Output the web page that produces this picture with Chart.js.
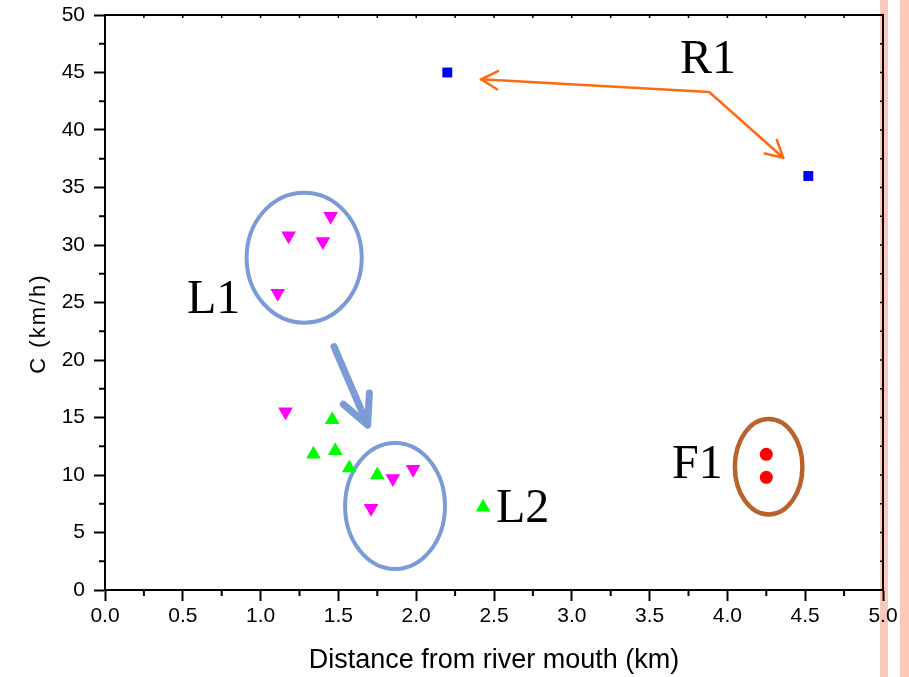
<!DOCTYPE html>
<html><head><meta charset="utf-8">
<script src="https://cdn.jsdelivr.net/npm/chart.js@4.4.1/dist/chart.umd.min.js"></script>
<style>
html,body{margin:0;padding:0;background:#fff;overflow:hidden;}
#wrap{position:relative;width:909px;height:677px;}
.stripe{position:absolute;top:0;height:677px;background:#f9c9bb;}
canvas{position:absolute;left:0;top:0;}
</style></head><body>
<div id="wrap">
<div class="stripe" style="left:880px;width:8px"></div>
<div class="stripe" style="left:900px;width:9px"></div>
<canvas id="c" width="909" height="677"></canvas>
</div>
<script>
// ---- data ----
const xTickLabels = ['0.0','0.5','1.0','1.5','2.0','2.5','3.0','3.5','4.0','4.5','5.0'];
const yTickLabels = ['0','5','10','15','20','25','30','35','40','45','50'];

const r1X = [2.20, 4.52];
const r1Y = [45.0, 36.0];

const f1X = [4.25, 4.25];
const f1Y = [11.8, 9.8];

const magentaX = [1.45, 1.18, 1.40, 1.11, 1.16, 1.85, 1.98, 1.71];
const magentaY = [32.5, 30.8, 30.3, 25.8, 15.5, 9.7, 10.5, 7.1];

const greenX = [1.46, 1.34, 1.48, 1.57, 1.75, 2.43];
const greenY = [14.8, 11.8, 12.1, 10.6, 10.0, 7.2];

// annotation labels (data units)
const labelText = ['R1', 'L1', 'L2', 'F1'];
const labelX = [3.695, 0.527, 2.513, 3.644];
const labelY = [44.96, 24.09, 5.91, 9.74];

const toPts = (xs, ys) => xs.map((x, i) => ({x, y: ys[i]}));
const SANS = '"Liberation Sans", Arial, sans-serif';

const annot = {
  id: 'annot',
  beforeDatasetsDraw(chart) {
    const {ctx, scales: {x, y}} = chart;
    const px = v => x.getPixelForValue(v), py = v => y.getPixelForValue(v);
    const sx = d => Math.abs(x.getPixelForValue(d) - x.getPixelForValue(0));
    const sy = d => Math.abs(y.getPixelForValue(d) - y.getPixelForValue(0));
    ctx.save();
    const ell = (cx, cy, rx, ry, col, w) => {
      ctx.beginPath();
      ctx.ellipse(px(cx), py(cy), sx(rx), sy(ry), 0, 0, Math.PI * 2);
      ctx.strokeStyle = col; ctx.lineWidth = w; ctx.stroke();
    };
    ell(1.28, 28.9, 0.37, 5.65, '#7a9bd6', 4);
    ell(1.864, 7.3, 0.321, 5.48, '#7a9bd6', 4);
    ell(4.265, 10.72, 0.217, 4.15, '#b8622c', 4.5);
    const head = (ax, ay, bx, by, len, ang) => {
      const a = Math.atan2(by - ay, bx - ax);
      ctx.beginPath();
      ctx.moveTo(bx - len * Math.cos(a - ang), by - len * Math.sin(a - ang));
      ctx.lineTo(bx, by);
      ctx.lineTo(bx - len * Math.cos(a + ang), by - len * Math.sin(a + ang));
      ctx.stroke();
    };
    ctx.strokeStyle = '#7a9bd6'; ctx.lineWidth = 7; ctx.lineCap = 'round'; ctx.lineJoin = 'round';
    let ax = px(1.472), ay = py(21.16), bx = px(1.688), by = py(14.35);
    ctx.beginPath(); ctx.moveTo(ax, ay); ctx.lineTo(bx, by); ctx.stroke();
    head(ax, ay, bx, by, 32, 0.46);
    ctx.strokeStyle = '#ff6a13'; ctx.lineWidth = 2.5; ctx.lineCap = 'round';
    const cx = px(3.883), cy = py(43.3);
    const lx = px(2.416), ly = py(44.41);
    const rx = px(4.359), ry = py(37.59);
    ctx.beginPath(); ctx.moveTo(lx, ly); ctx.lineTo(cx, cy); ctx.lineTo(rx, ry); ctx.stroke();
    head(cx, cy, lx, ly, 19, 0.5);
    head(cx, cy, rx, ry, 19, 0.5);
    ctx.fillStyle = '#000';
    ctx.font = '48px "Liberation Serif", "Times New Roman", serif';
    ctx.textAlign = 'left'; ctx.textBaseline = 'alphabetic';
    labelText.forEach((t, i) => ctx.fillText(t, px(labelX[i]), py(labelY[i])));
    ctx.restore();
  },
  afterDraw(chart) {
    const {ctx, chartArea: ca, scales: {x, y}} = chart;
    ctx.save();
    ctx.strokeStyle = '#000'; ctx.lineWidth = 2; ctx.lineCap = 'butt';
    ctx.beginPath();
    ctx.moveTo(ca.left - 1, ca.top); ctx.lineTo(ca.right, ca.top); ctx.lineTo(ca.right, ca.bottom + 1);
    ctx.stroke();
    ctx.beginPath();
    for (let v = 2.5; v < 50; v += 5) { const p = y.getPixelForValue(v); ctx.moveTo(ca.left - 6, p); ctx.lineTo(ca.left, p); }
    for (let v = 0.25; v < 5; v += 0.5) { const p = x.getPixelForValue(v); ctx.moveTo(p, ca.bottom); ctx.lineTo(p, ca.bottom + 6); }
    ctx.stroke();
    ctx.lineWidth = 1.5;
    ctx.beginPath();
    for (let v = 2.5; v < 50; v += 2.5) { const p = y.getPixelForValue(v); ctx.moveTo(ca.right - 3, p); ctx.lineTo(ca.right, p); }
    for (let v = 0.25; v < 5; v += 0.25) { const p = x.getPixelForValue(v); ctx.moveTo(p, ca.top); ctx.lineTo(p, ca.top + 3); }
    ctx.stroke();
    ctx.fillStyle = '#000';
    ctx.font = '22px ' + SANS;
    if ('letterSpacing' in ctx) ctx.letterSpacing = '2px';
    ctx.translate(45, (ca.top + ca.bottom) / 2 + 21);
    ctx.rotate(-Math.PI / 2);
    ctx.textAlign = 'center'; ctx.textBaseline = 'alphabetic';
    ctx.fillText('C (km/h)', 0, 0);
    ctx.restore();
  }
};

new Chart(document.getElementById('c'), {
  type: 'scatter',
  data: {
    datasets: [
      {label: 'R1', data: toPts(r1X, r1Y), pointStyle: 'rect', pointRadius: 7, pointHoverRadius: 7,
       backgroundColor: '#0000ff', borderColor: '#0000ff', borderWidth: 0},
      {label: 'F1', data: toPts(f1X, f1Y), pointStyle: 'circle', pointRadius: 6.5, pointHoverRadius: 6.5,
       backgroundColor: '#ff0000', borderColor: '#ff0000', borderWidth: 0},
      {label: 'L1', data: toPts(magentaX, magentaY), pointStyle: 'triangle', pointRotation: 180, pointRadius: 8.5, pointHoverRadius: 8.5,
       backgroundColor: '#ff00ff', borderColor: '#ff00ff', borderWidth: 0},
      {label: 'L2', data: toPts(greenX, greenY), pointStyle: 'triangle', pointRadius: 8.5, pointHoverRadius: 8.5,
       backgroundColor: '#00ff00', borderColor: '#00ff00', borderWidth: 0}
    ]
  },
  options: {
    responsive: false, animation: false, events: [],
    layout: {padding: {left: 0, top: 15, right: 26, bottom: 0}},
    plugins: {legend: {display: false}, tooltip: {enabled: false}},
    scales: {
      x: {
        type: 'linear', min: 0, max: 5,
        afterFit: s => { s.height = 87; s.paddingLeft = 0; s.paddingRight = 0; },
        ticks: {stepSize: 0.5, color: '#000', padding: 3, maxRotation: 0,
          font: {family: SANS, size: 21},
          callback: (v) => xTickLabels[Math.round(v / 0.5)]},
        grid: {drawOnChartArea: false, drawTicks: true, tickLength: 11, tickWidth: 2, tickColor: '#000', color: '#000'},
        border: {display: true, color: '#000', width: 2},
        title: {display: true, text: 'Distance from river mouth (km)', color: '#000',
          font: {family: SANS, size: 27}, padding: {top: 0, bottom: 0}}
      },
      y: {
        type: 'linear', min: 0, max: 50,
        afterFit: s => { s.width = 105; s.paddingTop = 0; s.paddingBottom = 0; },
        ticks: {stepSize: 5, color: '#000', padding: 9,
          font: {family: SANS, size: 21},
          callback: (v) => yTickLabels[Math.round(v / 5)]},
        grid: {drawOnChartArea: false, drawTicks: true, tickLength: 11, tickWidth: 2, tickColor: '#000', color: '#000'},
        border: {display: true, color: '#000', width: 2}
      }
    }
  },
  plugins: [annot]
});
</script>
</body></html>
